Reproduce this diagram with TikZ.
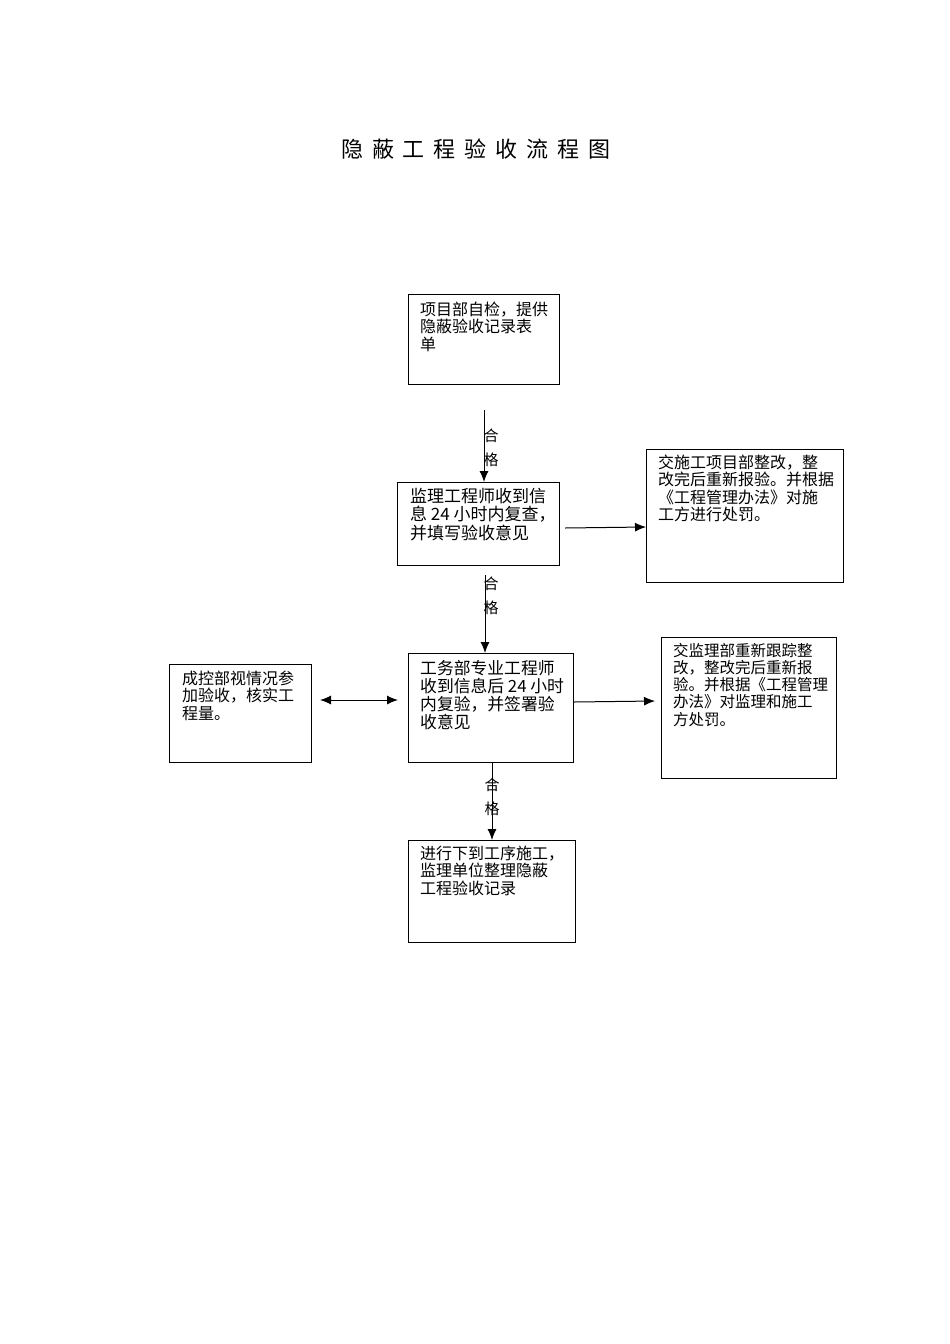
\documentclass[tikz,border=0pt]{standalone}
\usepackage{fontspec}
\newfontfamily\cjk{Noto Sans CJK SC}
\usetikzlibrary{arrows.meta}
\begin{document}
\begin{tikzpicture}[x=1pt,y=-1pt,
  box/.style={draw,line width=1pt,anchor=north west,inner sep=0pt},
  txt/.style={anchor=north west,inner sep=0pt,align=left,font=\cjk\fontsize{16}{17.2}\selectfont},
  lbl/.style={inner sep=0pt,align=center,font=\cjk\fontsize{15}{24.5}\selectfont},
  arr/.style={line width=1pt,-{Latex[length=11pt,width=9pt]}},
  darr/.style={line width=1pt,{Latex[length=11pt,width=9pt]}-{Latex[length=11pt,width=9pt]}}]
\useasboundingbox (0,0) rectangle (950,1344);
\fill[white] (0,0) rectangle (950,1344);
% title
\node[inner sep=0pt,font=\cjk\fontsize{22}{26}\selectfont] (title) at (476,149)
  {隐\hspace{9pt}蔽\hspace{9pt}工\hspace{9pt}程\hspace{9pt}验\hspace{9pt}收\hspace{9pt}流\hspace{9pt}程\hspace{9pt}图};
% boxes
\node[box,minimum width=151pt,minimum height=90pt] (a) at (408,294) {};
\node[box,minimum width=162pt,minimum height=83pt] (b) at (397,482) {};
\node[box,minimum width=197pt,minimum height=133pt] (c) at (646,449) {};
\node[box,minimum width=165pt,minimum height=109pt] (d) at (408,653) {};
\node[box,minimum width=142pt,minimum height=98pt] (e) at (169,664) {};
\node[box,minimum width=175pt,minimum height=141pt] (f) at (661,637) {};
\node[box,minimum width=167pt,minimum height=102pt] (g) at (408,840) {};
% texts
\node[txt] (ta) at (420,302) {项目部自检，提供\\隐蔽验收记录表\\单};
\node[txt,font=\cjk\fontsize{17}{18.5}\selectfont] (tb) at (410,488) {监理工程师收到信\\息 24 小时内复查，\\并填写验收意见};
\node[txt] (tc) at (658,455) {交施工项目部整改，整\\改完后重新报验。并根据\\《工程管理办法》对施\\工方进行处罚。};
\node[txt,font=\cjk\fontsize{16.8}{18}\selectfont] (td) at (420,660) {工务部专业工程师\\收到信息后 24 小时\\内复验，并签署验\\收意见};
\node[txt] (te) at (182,671) {成控部视情况参\\加验收，核实工\\程量。};
\node[txt,font=\cjk\fontsize{15.5}{17.2}\selectfont] (tf) at (673,643) {交监理部重新跟踪整\\改，整改完后重新报\\验。并根据《工程管理\\办法》对监理和施工\\方处罚。};
\node[txt] (tg) at (420,846) {进行下到工序施工，\\监理单位整理隐蔽\\工程验收记录};
% connectors
\coordinate (s1) at (484,410);
\draw[arr] (s1) -- (s1 |- b.north);
\node[lbl] (l1) at (491,448) {合\\格};
\coordinate (s2) at (485,575);
\draw[arr] (s2) -- (s2 |- d.north);
\node[lbl] (l2) at (491,596) {合\\格};
\coordinate (s3) at (492,762);
\draw[arr] (s3) -- (s3 |- g.north);
\node[lbl] (l3) at (492,797) {合\\格};
\coordinate (s4) at (565,528);
\draw[arr] (s4) -- (c.west |- 0,527);
\coordinate (s5) at (574,702);
\draw[arr] (s5) -- (655,701) coordinate (e5);
\coordinate (s6) at (320,700);
\coordinate (e6) at (398,700);
\draw[darr] (s6) -- (e6);
\end{tikzpicture}
\end{document}
